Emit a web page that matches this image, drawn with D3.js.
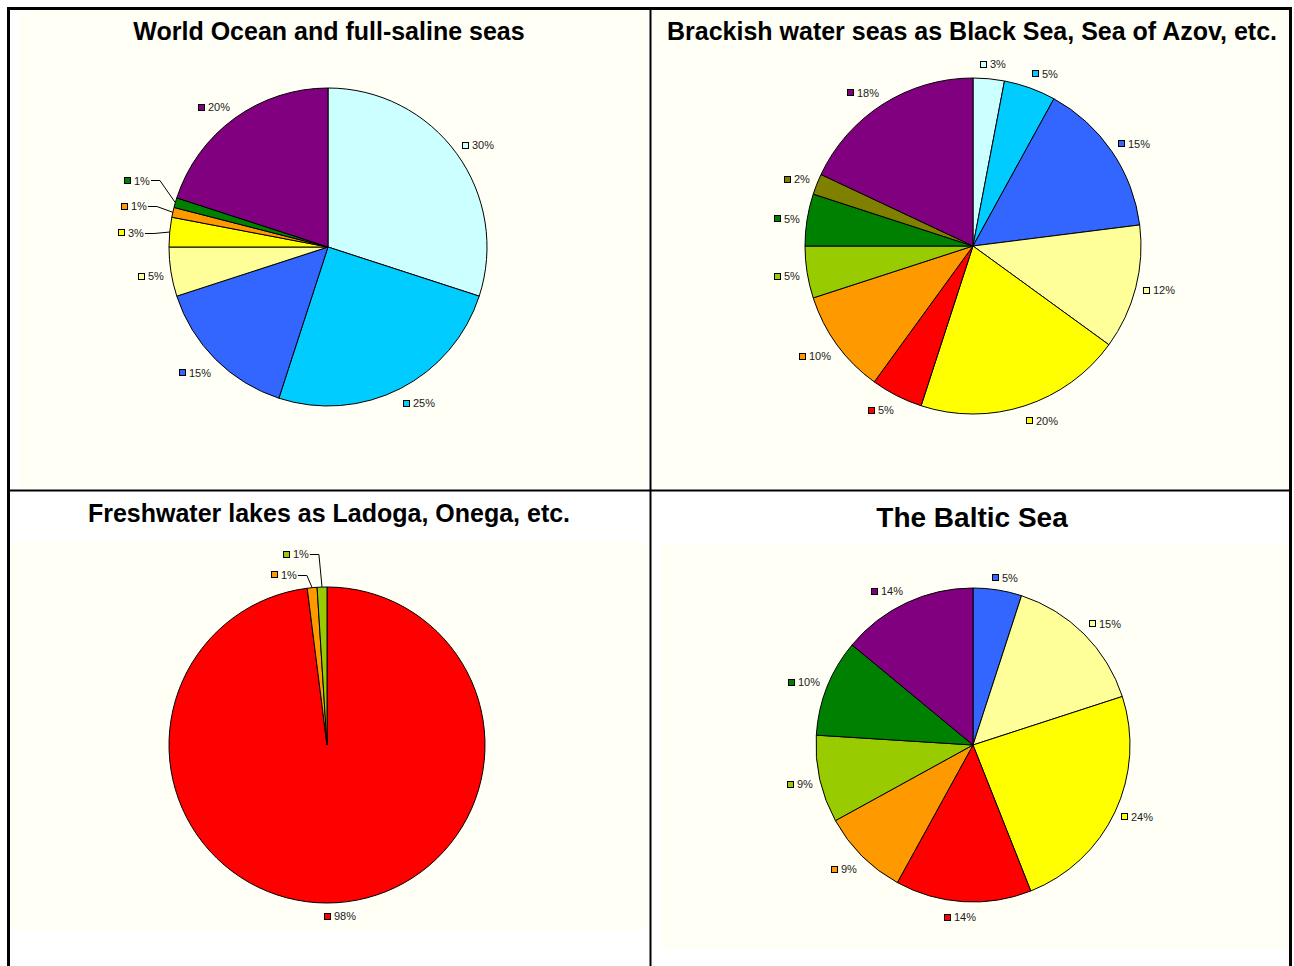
<!DOCTYPE html>
<html>
<head>
<meta charset="utf-8">
<script src="https://cdn.jsdelivr.net/npm/d3@7"></script>
<style>
  html, body { margin: 0; padding: 0; background: #ffffff; }
  svg { display: block; font-family: "Liberation Sans", Arial, sans-serif; }
</style>
</head>
<body>
<svg id="chart" width="1294" height="966"></svg>
<script>
// Share of each group (percent), one set of arrays per water body type.
const oceanTitle = "World Ocean and full-saline seas";
const oceanGroups = ["lightCyan", "skyBlue", "blue", "lightYellow", "yellow", "orange", "green", "purple"];
const oceanShares = [30, 25, 15, 5, 3, 1, 1, 20];

const brackishTitle = "Brackish water seas as Black Sea, Sea of Azov, etc.";
const brackishGroups = ["lightCyan", "skyBlue", "blue", "lightYellow", "yellow", "red", "orange", "lime", "green", "olive", "purple"];
const brackishShares = [3, 5, 15, 12, 20, 5, 10, 5, 5, 2, 18];

const lakesTitle = "Freshwater lakes as Ladoga, Onega, etc.";
const lakesGroups = ["red", "orange", "lime"];
const lakesShares = [98, 1, 1];

const balticTitle = "The Baltic Sea";
const balticGroups = ["blue", "lightYellow", "yellow", "red", "orange", "lime", "green", "purple"];
const balticShares = [5, 15, 24, 14, 9, 9, 10, 14];

// Fill colour for each group.
const palette = {
  lightCyan: "#ccffff",
  skyBlue: "#00ccff",
  blue: "#3366ff",
  lightYellow: "#ffff99",
  yellow: "#ffff00",
  red: "#ff0000",
  orange: "#ff9900",
  lime: "#99cc00",
  green: "#008000",
  olive: "#808000",
  purple: "#800080"
};

// Panel geometry: plot background, title placement, pie centre/radius.
// "leaders" are labels pulled away from thin slices (angle shift in degrees,
// gap from the rim) and joined back with a leader line; "nudges" are small
// offsets that keep neighbouring labels apart.
const panels = [
  { title: oceanTitle, groups: oceanGroups, shares: oceanShares,
    plot: [19, 10, 647, 488], titleX: 329, titleY: 40, titleSize: 25,
    cx: 328, cy: 247, r: 159,
    leaders: { 4: { shift: -0.7, gap: 25.6 }, 5: { shift: -0.1, gap: 26.4 }, 6: { shift: 3.75, gap: 30.4 } },
    nudges: {} },
  { title: brackishTitle, groups: brackishGroups, shares: brackishShares,
    plot: [653, 10, 1289, 488], titleX: 972, titleY: 40, titleSize: 25,
    cx: 973, cy: 246, r: 168, leaders: {},
    nudges: { 0: [0, -2], 1: [0, -2], 3: [0, -3] } },
  { title: lakesTitle, groups: lakesGroups, shares: lakesShares,
    plot: [10, 542, 647, 930], titleX: 329, titleY: 522, titleSize: 25,
    cx: 327, cy: 745, r: 158,
    leaders: { 1: { shift: -6.5, gap: 10.6 }, 2: { shift: -6.1, gap: 28.8 } },
    nudges: { 0: [0, -2] } },
  { title: balticTitle, groups: balticGroups, shares: balticShares,
    plot: [661, 543, 1289, 949], titleX: 972, titleY: 527, titleSize: 28,
    cx: 973, cy: 745, r: 157, leaders: {},
    nudges: { 2: [0, -4] } }
];

const svg = d3.select("#chart");
const labelFont = 11;
const labelH = 14;
const clamp = v => Math.max(-1, Math.min(1, v));

// Width of a label string at the label font size.
const measurer = svg.append("text").attr("font-size", labelFont).attr("visibility", "hidden");
function textWidth(s) {
  measurer.text(s);
  return measurer.node().getComputedTextLength();
}

const pie = d3.pie().sort(null).value(d => d.share).startAngle(0).endAngle(2 * Math.PI);

panels.forEach(p => {
  const [x0, y0, x1, y1] = p.plot;
  svg.append("rect")
    .attr("x", x0).attr("y", y0)
    .attr("width", x1 - x0).attr("height", y1 - y0)
    .attr("fill", "#fffff5");

  svg.append("text")
    .attr("x", p.titleX).attr("y", p.titleY)
    .attr("text-anchor", "middle")
    .attr("font-size", p.titleSize)
    .attr("font-weight", "bold")
    .attr("fill", "#000")
    .text(p.title);

  const data = p.groups.map((g, i) => ({ group: g, share: p.shares[i] }));
  const arcs = pie(data);
  const arc = d3.arc().innerRadius(0).outerRadius(p.r);

  const g = svg.append("g").attr("transform", `translate(${p.cx},${p.cy})`);
  g.selectAll("path.slice")
    .data(arcs)
    .join("path")
    .attr("class", "slice")
    .attr("d", arc)
    .attr("fill", d => palette[d.data.group])
    .attr("stroke", "#000")
    .attr("stroke-width", 1)
    .attr("stroke-linejoin", "round");

  // Percentage labels with a small colour key. Each label box hangs off a
  // point just outside the rim, anchored on the side facing the pie.
  arcs.forEach((d, i) => {
    const text = d.data.share + "%";
    const boxW = 10 + textWidth(text);
    const mid = (d.startAngle + d.endAngle) / 2;
    const lead = p.leaders[i];
    const ang = mid + (lead ? lead.shift * Math.PI / 180 : 0);
    const gap = lead ? lead.gap : 7;
    const s = Math.sin(ang), c = Math.cos(ang);
    const px = s * (p.r + gap), py = -c * (p.r + gap);
    const nudge = p.nudges[i] || [0, 0];
    const left = Math.round(px - boxW * (0.5 - 0.5 * clamp(3 * s)) + nudge[0]);
    const cy = py - (labelH / 2) * clamp(1.414 * c) + 1.5 + nudge[1];

    g.append("rect")
      .attr("x", left + 0.5).attr("y", Math.round(cy - 3.5) + 0.5)
      .attr("width", 6).attr("height", 6)
      .attr("fill", palette[d.data.group])
      .attr("stroke", "#000").attr("stroke-width", 1);
    g.append("text")
      .attr("x", left + 10).attr("y", cy + 4)
      .attr("font-size", labelFont)
      .attr("fill", "#1a1a1a")
      .text(text);

    if (lead) {
      const ex = Math.sin(mid) * p.r, ey = -Math.cos(mid) * p.r;
      const sx = left + boxW + 1;
      const ly = Math.round(cy) + 0.5;
      g.append("polyline")
        .attr("points", `${sx},${ly} ${sx + 9},${ly} ${ex},${ey}`)
        .attr("fill", "none")
        .attr("stroke", "#000")
        .attr("stroke-width", 1);
    }
  });
});

// Outer frame and panel dividers.
svg.append("rect")
  .attr("x", 8.5).attr("y", 8.5)
  .attr("width", 1282).attr("height", 970)
  .attr("fill", "none").attr("stroke", "#000").attr("stroke-width", 3);
svg.append("line")
  .attr("x1", 650.5).attr("x2", 650.5).attr("y1", 8).attr("y2", 966)
  .attr("stroke", "#000").attr("stroke-width", 2);
svg.append("line")
  .attr("x1", 8).attr("x2", 1292).attr("y1", 490.5).attr("y2", 490.5)
  .attr("stroke", "#000").attr("stroke-width", 2);
</script>
</body>
</html>
